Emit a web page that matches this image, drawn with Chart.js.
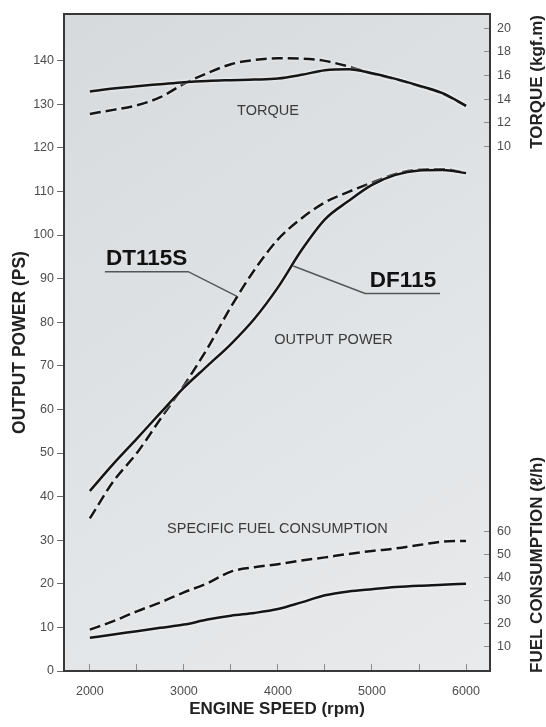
<!DOCTYPE html>
<html><head><meta charset="utf-8">
<script src="https://cdn.jsdelivr.net/npm/chart.js@4.4.1/dist/chart.umd.min.js"></script>
<style>html,body{margin:0;padding:0;background:#fff}#wrap{width:546px;height:727px}</style>
</head><body><div id="wrap"><canvas id="c" width="546" height="727"></canvas></div>
<script>
// ---- data ----
const rpm = [2000,2250,2500,2750,3000,3250,3500,3750,4000,4250,4500,4750,5000,5250,5500,5750,6000];
const torqueDF115  = [14.65,14.90,15.10,15.27,15.44,15.55,15.61,15.66,15.75,16.06,16.45,16.53,16.20,15.72,15.15,14.51,13.44];
const torqueDT115S = [12.76,13.10,13.49,14.17,15.30,16.20,16.96,17.32,17.46,17.43,17.24,16.76,16.18,15.70,15.12,14.48,13.44];
const powerDF115   = [41.3,47.5,53.3,59.2,65.0,70.0,75.0,80.8,88.0,96.5,103.6,107.8,111.5,113.8,114.8,114.9,114.2];
const powerDT115S  = [35.0,43.5,50.0,57.8,65.5,74.0,83.5,92.0,99.0,103.8,107.5,109.9,112.0,114.0,115.0,115.1,114.2];
const fuelDF115    = [13.6,15.1,16.5,18.0,19.4,21.6,23.3,24.5,26.2,29.1,32.2,33.9,34.9,35.8,36.4,36.8,37.3];
const fuelDT115S   = [17.2,20.9,25.2,29.1,33.5,37.5,42.6,44.5,45.8,47.4,48.8,50.3,51.6,52.7,54.2,55.7,56.0];

const xTicks      = [2000,2500,3000,3500,4000,4500,5000,5500,6000];
const powerTicks  = [0,10,20,30,40,50,60,70,80,90,100,110,120,130,140];
const torqueTicks = [10,12,14,16,18,20];
const fuelTicks   = [10,20,30,40,50,60];

const textNotes = [
  {text:'TORQUE', rpm:3894, val:128.4},
  {text:'OUTPUT POWER', rpm:4591, val:75.9},
  {text:'SPECIFIC FUEL CONSUMPTION', rpm:3995, val:32.6}
];
const modelNames = [
  {text:'DT115S', rpm:2603, val:94.6, leader:[[2160,91.6],[3046,91.6],[3560,86.0]]},
  {text:'DF115',  rpm:5330, val:89.5, leader:[[4163,92.9],[4926,86.6],[5723,86.6]]}
];

const pts = (ys) => rpm.map((x,i) => ({x, y: ys[i]}));
const FONT = "'Liberation Sans', Arial, Helvetica, sans-serif";
Chart.defaults.font.family = FONT;

const solid = {borderColor:'#151515', borderWidth:2.5, pointRadius:0, cubicInterpolationMode:'monotone', fill:false};
const dashed = {borderColor:'#151515', borderWidth:2.5, pointRadius:0, cubicInterpolationMode:'monotone', fill:false, borderDash:[11,5]};

const tickFont = {size:12.5, family:FONT};
const tickColor = '#4d4d4d';
const titleFont = {size:17, weight:'bold', family:FONT};
const noPad = s => { s.paddingTop = 0; s.paddingBottom = 0; s.paddingLeft = 0; s.paddingRight = 0; };

const deco = {
  id:'deco',
  afterLayout(chart){
    // let the fuel scale share the torque scale's box so its labels are not clipped
    const f = chart.scales.yF, t = chart.scales.yT;
    f.left = t.left; f.right = t.right;
  },
  beforeDraw(chart){
    const {ctx, chartArea:a} = chart;
    ctx.save();
    const g = ctx.createLinearGradient(a.left, a.top, a.right, a.bottom);
    g.addColorStop(0, '#d6dadd');
    g.addColorStop(0.55, '#e1e4e6');
    g.addColorStop(1, '#e8eaec');
    ctx.fillStyle = g;
    ctx.fillRect(a.left, a.top, a.right-a.left, a.bottom-a.top);
    ctx.restore();
  },
  beforeDatasetsDraw(chart){
    const ctx = chart.ctx;
    ctx.save();
    ctx.shadowColor = 'rgba(255,255,255,0.95)';
    ctx.shadowBlur = 3;
  },
  afterDatasetsDraw(chart){
    const {ctx, chartArea:a, scales} = chart;
    ctx.restore();
    const X = v => scales.x.getPixelForValue(v);
    const Y = v => scales.y.getPixelForValue(v);
    ctx.save();
    // frame
    ctx.strokeStyle = '#383838';
    ctx.lineWidth = 2;
    ctx.strokeRect(a.left, a.top, a.right-a.left, a.bottom-a.top);
    // notes
    ctx.fillStyle = '#3a3a3a';
    ctx.font = '14.5px ' + FONT;
    ctx.textAlign = 'center';
    ctx.textBaseline = 'middle';
    textNotes.forEach(n => ctx.fillText(n.text, X(n.rpm), Y(n.val)));
    // model names + leaders
    ctx.font = 'bold 22.5px ' + FONT;
    ctx.fillStyle = '#111';
    modelNames.forEach(m => {
      ctx.fillText(m.text, X(m.rpm), Y(m.val));
      ctx.beginPath();
      m.leader.forEach((p,i) => { const px=X(p[0]), py=Y(p[1]); i ? ctx.lineTo(px,py) : ctx.moveTo(px,py); });
      ctx.strokeStyle = '#555';
      ctx.lineWidth = 1.5;
      ctx.stroke();
    });
    // right axis titles
    ctx.fillStyle = '#222';
    ctx.font = 'bold 17px ' + FONT;
    ctx.textBaseline = 'middle';
    const tx = chart.width - 9;
    ctx.save();
    ctx.translate(tx, a.top + 1);
    ctx.rotate(-Math.PI/2);
    ctx.textAlign = 'right';
    ctx.fillText('TORQUE (kgf.m)', 0, 0);
    ctx.restore();
    ctx.save();
    ctx.translate(tx, a.bottom + 2);
    ctx.rotate(-Math.PI/2);
    ctx.textAlign = 'left';
    ctx.fillText('FUEL CONSUMPTION (\u2113/h)', 0, 0);
    ctx.restore();
    ctx.restore();
  }
};

new Chart(document.getElementById('c'), {
  type:'line',
  data:{datasets:[
    Object.assign({label:'DF115 torque', data:pts(torqueDF115), yAxisID:'yT'}, solid),
    Object.assign({label:'DT115S torque', data:pts(torqueDT115S), yAxisID:'yT'}, dashed),
    Object.assign({label:'DF115 power', data:pts(powerDF115), yAxisID:'y'}, solid),
    Object.assign({label:'DT115S power', data:pts(powerDT115S), yAxisID:'y'}, dashed),
    Object.assign({label:'DF115 fuel', data:pts(fuelDF115), yAxisID:'yF'}, solid),
    Object.assign({label:'DT115S fuel', data:pts(fuelDT115S), yAxisID:'yF'}, dashed)
  ]},
  options:{
    responsive:false, devicePixelRatio:1, animation:false,
    layout:{padding:{top:14, left:0, right:0, bottom:0}},
    plugins:{legend:{display:false}, tooltip:{enabled:false}},
    scales:{
      x:{type:'linear', position:'bottom', min:1725, max:6255,
        afterBuildTicks:s=>{s.ticks = xTicks.map(v=>({value:v}));},
        afterFit:s=>{s.height = 56; noPad(s);},
        ticks:{autoSkip:false, maxRotation:0, padding:20, font:tickFont, color:tickColor,
          callback:v=> v % 1000 === 0 ? String(v) : ''},
        grid:{drawOnChartArea:false, drawTicks:true, tickLength:-7, color:'#8c8c8c', lineWidth:1},
        border:{display:false},
        title:{display:true, text:'ENGINE SPEED (rpm)', font:titleFont, color:'#222', padding:{top:0, bottom:7}}
      },
      y:{type:'linear', position:'left', min:0, max:150.7,
        afterBuildTicks:s=>{s.ticks = powerTicks.map(v=>({value:v}));},
        afterFit:s=>{s.width = 64; noPad(s);},
        ticks:{padding:3, font:tickFont, color:tickColor},
        grid:{drawOnChartArea:false, drawTicks:true, tickLength:7, color:'#6a6a6a', lineWidth:1},
        border:{display:false},
        title:{display:true, text:'OUTPUT POWER (PS)', font:{size:17.5, weight:'bold', family:FONT}, color:'#222', padding:{top:10, bottom:0}}
      },
      yF:{type:'linear', position:'right', weight:0, min:-0.9, max:286.5,
        afterBuildTicks:s=>{s.ticks = fuelTicks.map(v=>({value:v}));},
        afterFit:s=>{s.width = 0; noPad(s);},
        ticks:{padding:13, font:tickFont, color:tickColor},
        grid:{drawOnChartArea:false, drawTicks:true, tickLength:-6, color:'#8c8c8c', lineWidth:1},
        border:{display:false}
      },
      yT:{type:'linear', position:'right', weight:1, min:-34.3, max:21.2,
        afterBuildTicks:s=>{s.ticks = torqueTicks.map(v=>({value:v}));},
        afterFit:s=>{s.width = 56; noPad(s);},
        ticks:{padding:13, font:tickFont, color:tickColor},
        grid:{drawOnChartArea:false, drawTicks:true, tickLength:-6, color:'#8c8c8c', lineWidth:1},
        border:{display:false}
      }
    }
  },
  plugins:[deco]
});
</script>
</body></html>
